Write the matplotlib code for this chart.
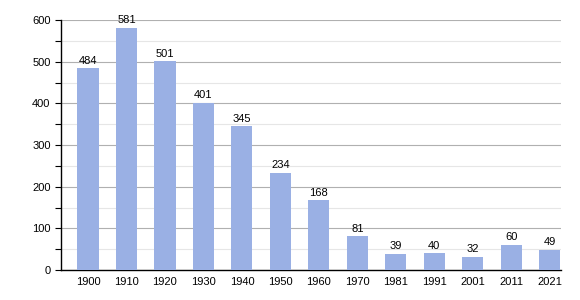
import matplotlib
matplotlib.use("Agg")
import matplotlib.pyplot as plt
from matplotlib.ticker import MultipleLocator

years = ["1900", "1910", "1920", "1930", "1940", "1950", "1960", "1970",
         "1981", "1991", "2001", "2011", "2021"]
population = [484, 581, 501, 401, 345, 234, 168, 81, 39, 40, 32, 60, 49]

plt.rcParams['font.family'] = ['Liberation Sans', 'DejaVu Sans']
fig = plt.figure(figsize=(5.8, 3.0), dpi=100)
ax = fig.add_axes([61/580, 30/300, 500/580, 250/300])

x = list(range(len(years)))
bars = ax.bar(x, population, width=0.55, color="#9ab0e4", zorder=3)
for xi, v in zip(x, population):
    ax.text(xi, v + 6, str(v), ha="center", va="bottom", fontsize=8, zorder=4)

ax.set_xlim(-0.7, 12.29)
ax.set_ylim(0, 600)
ax.yaxis.set_major_locator(MultipleLocator(100))
ax.yaxis.set_minor_locator(MultipleLocator(50))
ax.set_xticks(x)
ax.set_xticklabels(years)
ax.tick_params(axis="x", length=0, labelsize=8, pad=5)
ax.tick_params(axis="y", which="major", length=4, labelsize=8, width=0.8)
ax.tick_params(axis="y", which="minor", length=4, width=0.8)
ax.grid(axis="y", which="major", color="#b0b0b0", linewidth=0.8, zorder=0)
ax.grid(axis="y", which="minor", color="#e6e6e6", linewidth=0.8, zorder=0)
for s in ["top", "right"]:
    ax.spines[s].set_visible(False)
ax.spines["left"].set_linewidth(1.0)
ax.spines["bottom"].set_linewidth(1.0)
ax.set_axisbelow(True)

fig.savefig("out.png", dpi=100)
